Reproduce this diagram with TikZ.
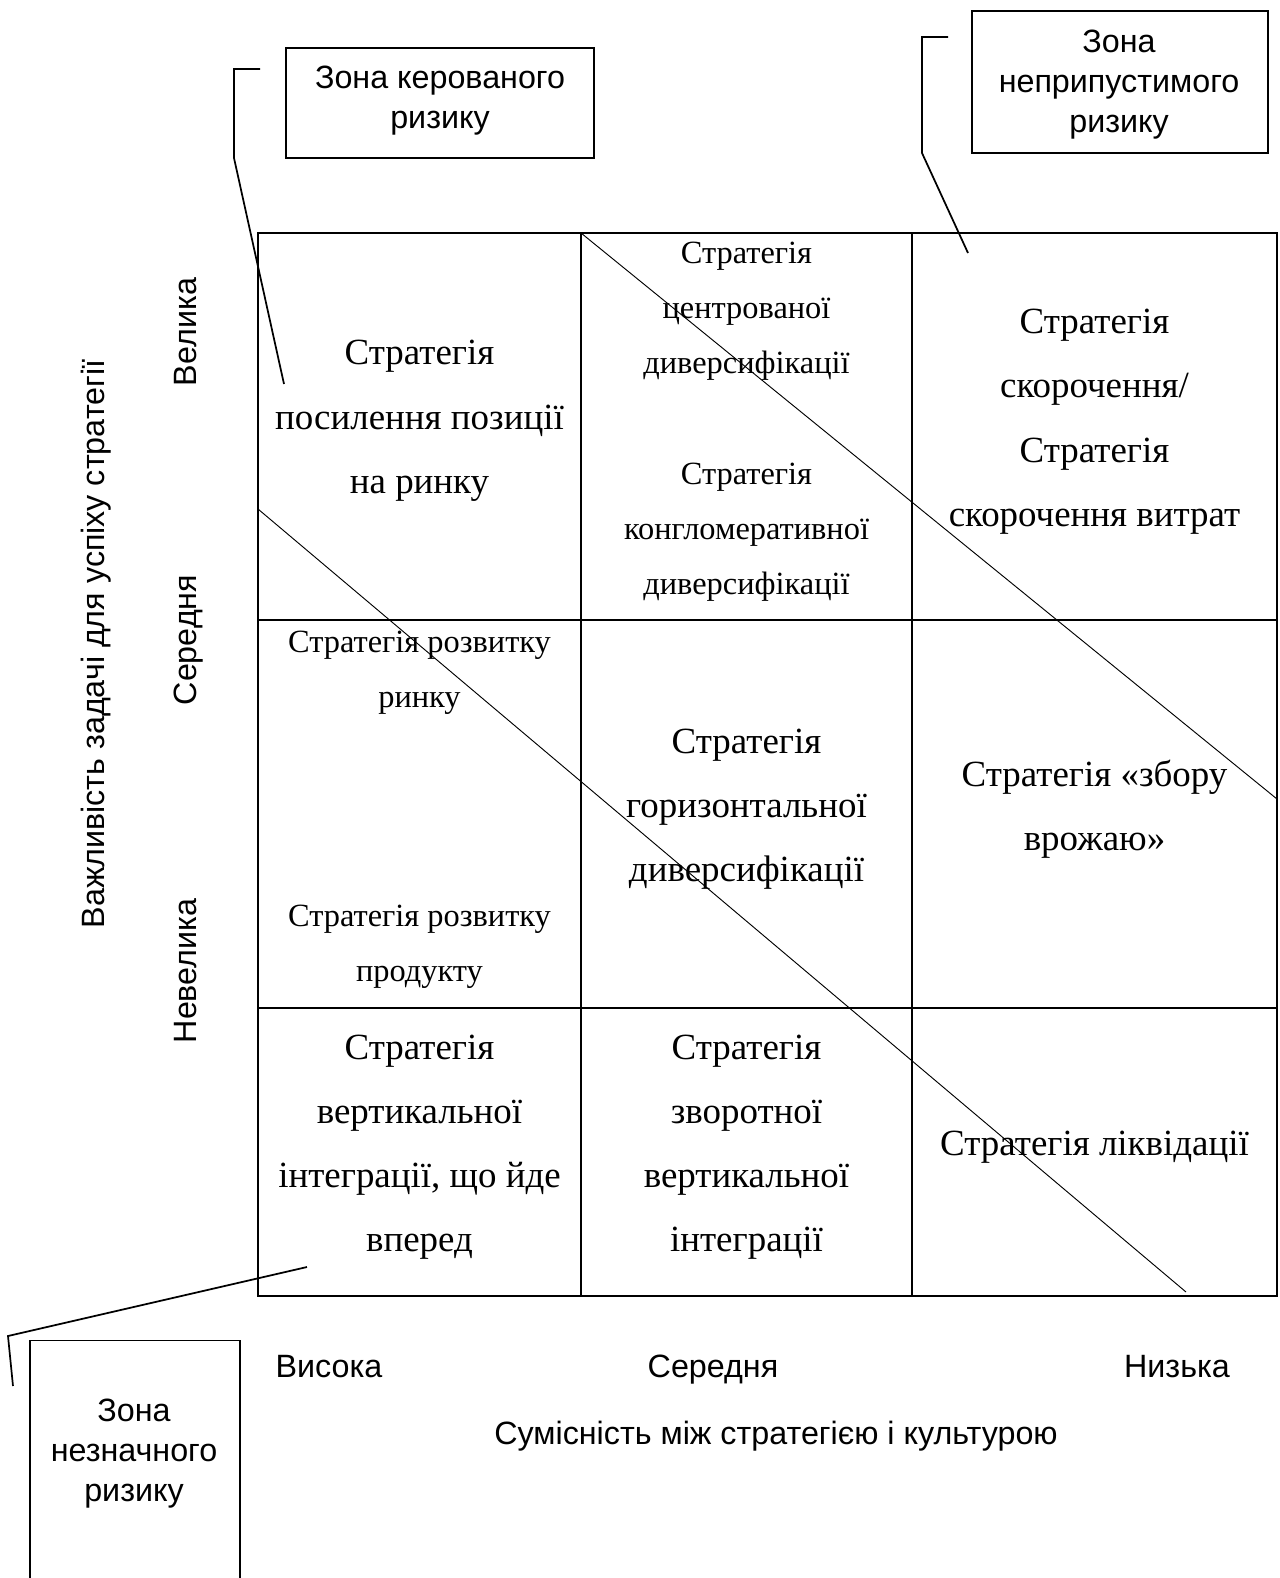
\documentclass[tikz,border=0pt]{standalone}
\usepackage{fontspec}
\setmainfont{Liberation Serif}
\newfontfamily\labelsans{Liberation Sans}
\begin{document}
\begin{tikzpicture}[x=0.75pt,y=-0.75pt,
  gridline/.style={line width=1.2pt},
  diagline/.style={line width=0.7pt},
  leader/.style={line width=1.3pt},
  zonebox/.style={draw, line width=1.2pt, rectangle, inner sep=0pt},
  big/.style={font=\fontsize{27.7}{33}\selectfont, anchor=base, inner sep=0pt},
  small/.style={font=\fontsize{24.3}{28}\selectfont, anchor=base, inner sep=0pt},
  lab/.style={font=\labelsans\fontsize{24.2}{28}\selectfont, anchor=base, inner sep=0pt},
  vlab/.style={lab, rotate=90}]
\useasboundingbox (0,0) rectangle (1279,1578);

% grid
\draw[gridline] (258,233) rectangle (1277,1296);
\draw[gridline] (581,233) -- (581,1296);
\draw[gridline] (912,233) -- (912,1296);
\draw[gridline] (258,620) -- (1277,620);
\draw[gridline] (258,1008) -- (1277,1008);

% diagonals
\coordinate (d1a) at (581,233);
\coordinate (d1b) at (1277,799);
\coordinate (d2a) at (258,509);
\coordinate (d2b) at (1186,1292);
\draw[diagline] (d1a) -- (d1b);
\draw[diagline] (d2a) -- (d2b);

% zone boxes
\node[zonebox, minimum width=231pt, minimum height=82.5pt] (box1) at (440,103) {};
\node[zonebox, minimum width=222pt, minimum height=106.5pt] (box2) at (1120,82) {};
\node[zonebox, minimum width=157.5pt, minimum height=194pt] (box3) at (135,1470) {};

\node[lab] (b1l1) at (440,88) {Зона керованого};
\node[lab] (b1l2) at (440,128) {ризику};
\node[lab] (b2l1) at (1119,52) {Зона};
\node[lab] (b2l2) at (1119,92) {неприпустимого};
\node[lab] (b2l3) at (1119,132) {ризику};
\node[lab] (b3l1) at (134,1421) {Зона};
\node[lab] (b3l2) at (134,1461) {незначного};
\node[lab] (b3l3) at (134,1501) {ризику};

% leaders
\coordinate (l1a) at (260,69);
\coordinate (l1b) at (234,69);
\coordinate (l1c) at (234,158);
\coordinate (l1d) at (284,384);
\draw[leader] (l1a) -- (l1b) -- (l1c) -- (l1d);
\coordinate (l2a) at (948,37);
\coordinate (l2b) at (922,37);
\coordinate (l2c) at (922,153);
\coordinate (l2d) at (968,253);
\draw[leader] (l2a) -- (l2b) -- (l2c) -- (l2d);
\coordinate (l3a) at (307,1267);
\coordinate (l3b) at (8,1336);
\coordinate (l3c) at (13,1386);
\draw[leader] (l3a) -- (l3b) -- (l3c);

% axis labels
\node[lab] (xh) at (329,1377) {Висока};
\node[lab] (xm) at (713,1377) {Середня};
\node[lab] (xl) at (1177,1377) {Низька};
\node[lab] (xt) at (776,1444) {Сумісність між стратегією і культурою};
\node[vlab] (yt) at (104,644) {Важливість задачі для успіху стратегії};
\node[vlab] (yh) at (196,332) {Велика};
\node[vlab] (ym) at (196,640) {Середня};
\node[vlab] (yl) at (196,971) {Невелика};

% row 1
\node[big] (a1) at (419.5,364) {Стратегія};
\node[big] (a2) at (419.5,429) {посилення позиції};
\node[big] (a3) at (419.5,493) {на ринку};

\node[small] (b1) at (746.5,263) {Стратегія};
\node[small] (b2) at (746.5,318) {центрованої};
\node[small] (b3) at (746.5,373) {диверсифікації};
\node[small] (b4) at (746.5,484) {Стратегія};
\node[small] (b5) at (746.5,539) {конгломеративної};
\node[small] (b6) at (746.5,594) {диверсифікації};

\node[big] (c1) at (1094.5,333) {Стратегія};
\node[big] (c2) at (1094.5,397) {скорочення/};
\node[big] (c3) at (1094.5,462) {Стратегія};
\node[big] (c4) at (1094.5,526) {скорочення витрат};

% row 2
\node[small] (d1) at (419.5,652) {Стратегія розвитку};
\node[small] (d2) at (419.5,707) {ринку};
\node[small] (d3) at (419.5,926) {Стратегія розвитку};
\node[small] (d4) at (419.5,981) {продукту};

\node[big] (e1) at (746.5,753) {Стратегія};
\node[big] (e2) at (746.5,817) {горизонтальної};
\node[big] (e3) at (746.5,881) {диверсифікації};

\node[big] (f1) at (1094.5,786) {Стратегія «збору};
\node[big] (f2) at (1094.5,850) {врожаю»};

% row 3
\node[big] (g1) at (419.5,1059) {Стратегія};
\node[big] (g2) at (419.5,1123) {вертикальної};
\node[big] (g3) at (419.5,1187) {інтеграції, що йде};
\node[big] (g4) at (419.5,1251) {вперед};

\node[big] (h1) at (746.5,1059) {Стратегія};
\node[big] (h2) at (746.5,1123) {зворотної};
\node[big] (h3) at (746.5,1187) {вертикальної};
\node[big] (h4) at (746.5,1251) {інтеграції};

\node[big] (k1) at (1094.5,1155) {Стратегія ліквідації};
\end{tikzpicture}
\end{document}
